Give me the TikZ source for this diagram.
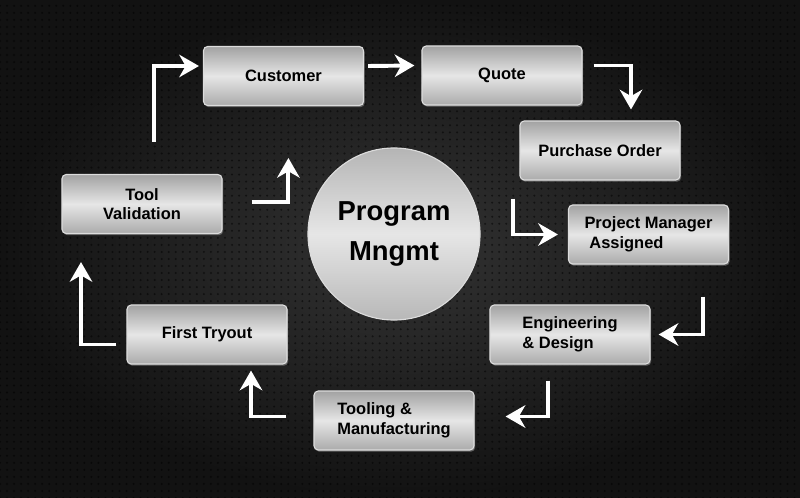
\documentclass[tikz,border=0pt]{standalone}
\usepackage{fontspec}
\setmainfont{Liberation Sans}
\usetikzlibrary{calc,arrows.meta,shadows,patterns.meta}
\definecolor{bgdark}{HTML}{121212}
\definecolor{bgmid}{HTML}{333333}
\definecolor{steeltop}{HTML}{A2A2A2}
\definecolor{steelmid}{HTML}{E6E6E6}
\definecolor{steelbot}{HTML}{ABABAB}
\definecolor{steeledge}{HTML}{DCDCDC}

\begin{document}
\begin{tikzpicture}[x=0.025cm, y=-0.025cm,
    plate/.style={rectangle, rounded corners=3pt, draw=steeledge, line width=0.8pt,
      top color=steeltop, bottom color=steelbot, middle color=steelmid,
      minimum width=4cm, minimum height=1.475cm, inner sep=0pt, text=black,
      font=\bfseries\fontsize{11.7}{14}\selectfont,
      drop shadow={shadow xshift=0.8pt, shadow yshift=-1.2pt, opacity=0.7}},
    hub/.style={circle, draw=steeledge, line width=0.8pt,
      top color=steeltop!80!white, bottom color=steelbot!85!white, middle color=steelmid,
      minimum size=4.3cm, inner sep=0pt, text=black, align=center,
      font=\bfseries\fontsize{19.5}{28}\selectfont},
    flow/.style={draw=white, line width=2.8pt,
      -{Stealth[length=14pt, width=16pt]}}]

    % backdrop
    \fill[inner color=bgmid, outer color=bgdark] (0,0) rectangle (800,498);
    \fill[pattern={Dots[distance=5pt, radius=0.8pt]}, pattern color=black, opacity=0.5]
      (0,0) rectangle (800,498);
    \useasboundingbox (0,0) rectangle (800,498);

    % stages
    \node[plate] (cust) at (283.5,76) {Customer};
    \node[plate] (quote) at (502,75.5) {Quote};
    \node[plate] (po) at (600,150.5) {Purchase Order};
    \node[plate, align=left] (pm) at (648.5,234.5) {Project Manager\\\hspace{3.5pt}Assigned};
    \node[plate, align=left] (eng) at (570,334.5) {Engineering\\\& Design};
    \node[plate, align=left] (tm) at (394,420.5) {Tooling \&\\Manufacturing};
    \node[plate] (try) at (207,334.5) {First Tryout};
    \node[plate, align=center] (tv) at (142,204) {Tool\\Validation};
    \node[hub] (prog) at (394,234) {Program\\Mngmt};

    % loop arrows
    \draw[flow] ($(tv.north)+(12,-32)$) |- ($(cust.west)+(-4,-10)$);
    \draw[flow] ($(cust.east)+(4,-10)$) -- ($(quote.west)+(-7,-10)$);
    \draw[flow] ($(quote.east)+(11,-10)$) -| ($(po.north)+(31,-11)$);
    \draw[flow] ($(po.south)+(-87,18)$) |- ($(pm.west)+(-10,0)$);
    \draw[flow] ($(pm.south)+(54.5,32)$) |- ($(eng.east)+(8,0)$);
    \draw[flow] ($(eng.south)+(-22,16)$) |- ($(tm.east)+(31,-4)$);
    \draw[flow] ($(tm.west)+(-27,-4)$) -| ($(try.south)+(44,6)$);
    \draw[flow] ($(try.west)+(-10,10)$) -| ($(tv.south)+(-61,28)$);
    \draw[flow] ($(tv.east)+(29,-2)$) -| ($(prog.west)+(-19,-76)$);
  \end{tikzpicture}
\end{document}
